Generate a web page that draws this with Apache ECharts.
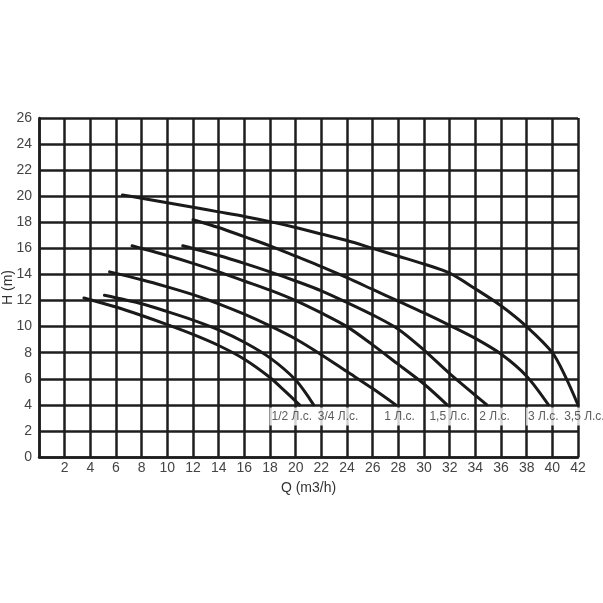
<!DOCTYPE html>
<html><head><meta charset="utf-8">
<script src="https://cdn.jsdelivr.net/npm/echarts@6/dist/echarts.min.js"></script>
<style>html,body{margin:0;padding:0;background:#fff}#c{width:603px;height:603px}</style>
</head><body><div id="c"></div>
<script>
// Curve names
const curveNames = ['1/2 Л.с.', '3/4 Л.с.', '1 Л.с.', '1,5 Л.с.', '2 Л.с.', '3 Л.с.', '3,5 Л.с.'];
// Q (m3/h) values per curve, with matching H (m) values
const q_half   = [3.5, 6, 8, 10, 12, 14, 16, 18, 19, 20.3];
const h_half   = [12.2, 11.5, 10.85, 10.15, 9.4, 8.55, 7.5, 6.1, 5.2, 4.0];
const q_3q     = [5.1, 8, 10, 12, 14, 16, 18, 20, 21.4];
const h_3q     = [12.4, 11.75, 11.15, 10.5, 9.75, 8.8, 7.6, 5.9, 4.0];
const q_1      = [5.5, 8, 10, 12, 14, 16, 18, 20, 22, 24, 26, 27.8];
const h_1      = [14.2, 13.6, 13.05, 12.45, 11.75, 10.95, 10.05, 9.05, 7.85, 6.55, 5.25, 4.0];
const q_15     = [7.25, 10, 12, 14, 16, 18, 20, 22, 24, 26, 28, 30, 31.8];
const h_15     = [16.2, 15.45, 14.85, 14.2, 13.5, 12.8, 12.0, 11.05, 10.0, 8.6, 7.1, 5.6, 4.0];
const q_2      = [11.2, 14, 16, 18, 20, 22, 24, 26, 28, 30, 32, 34.9];
const h_2      = [16.2, 15.45, 14.85, 14.2, 13.5, 12.75, 11.85, 10.9, 9.8, 8.2, 6.4, 4.0];
const q_3      = [12, 14, 16, 18, 20, 22, 24, 26, 28, 30, 32, 34, 36, 38, 39.7];
const h_3      = [18.2, 17.6, 16.9, 16.2, 15.4, 14.6, 13.75, 12.85, 11.95, 11.05, 10.1, 9.1, 7.9, 6.2, 4.0];
const q_35     = [6.5, 8, 10, 12, 14, 16, 18, 20, 22, 24, 26, 28, 30, 32, 34, 36, 38, 40, 41, 42];
const h_35     = [20.1, 19.85, 19.5, 19.15, 18.8, 18.45, 18.05, 17.6, 17.1, 16.6, 16.0, 15.4, 14.8, 14.1, 12.9, 11.6, 10.0, 8.0, 6.2, 4.0];
// label anchor points (data units)
const labelQ = [19.7, 23.3, 28.1, 32.0, 35.5, 39.3, 42.5];
const labelH = [3.1, 3.1, 3.1, 3.1, 3.1, 3.1, 3.1];
// axis ticks
const xTicks = [0,2,4,6,8,10,12,14,16,18,20,22,24,26,28,30,32,34,36,38,40,42];
const yTicks = [0,2,4,6,8,10,12,14,16,18,20,22,24,26];

const curvesQ = [q_half, q_3q, q_1, q_15, q_2, q_3, q_35];
const curvesH = [h_half, h_3q, h_1, h_15, h_2, h_3, h_35];
const FONT = 'Liberation Sans, Arial, sans-serif';

const series = curvesQ.map((qs, i) => ({
  type: 'line', name: curveNames[i], showSymbol: false, symbol: 'none', smooth: 0.3,
  lineStyle: { color: '#1a1a1a', width: 3, cap: 'round' },
  data: qs.map((q, j) => [q, curvesH[i][j]]), z: 5, silent: true
}));
series.push({
  type: 'scatter', symbolSize: 0, silent: true, clip: false, z: 6,
  data: labelQ.map((q, i) => ({ value: [q, labelH[i]], name: curveNames[i] })),
  label: { show: true, position: 'inside', formatter: p => p.name, color: '#333', fontSize: 12, fontFamily: FONT,
    backgroundColor: '#fff', padding: [3, 2, 3, 2] }
});

const chart = echarts.init(document.getElementById('c'), null, { renderer: 'canvas' });
chart.setOption({
  animation: false,
  backgroundColor: '#fff',
  grid: { left: 39, right: 25, top: 118, bottom: 146, containLabel: false, outerBoundsMode: 'none' },
  xAxis: {
    type: 'value', min: xTicks[0], max: xTicks[xTicks.length - 1], interval: 2,
    name: 'Q (m3/h)', nameLocation: 'middle', nameGap: 24, nameMoveOverlap: false,
    nameTextStyle: { color: '#333', fontSize: 14, fontFamily: FONT },
    axisLine: { show: true, lineStyle: { color: '#1e1e1e', width: 2.5 } },
    axisTick: { show: false },
    axisLabel: { color: '#444', fontSize: 14, fontFamily: FONT, margin: 4,
      formatter: v => (v === 0 ? '' : String(v)) },
    splitLine: { show: true, lineStyle: { color: '#1e1e1e', width: 2.5 } }
  },
  yAxis: {
    type: 'value', min: yTicks[0], max: yTicks[yTicks.length - 1], interval: 2,
    name: 'H (m)', nameLocation: 'middle', nameGap: 24, nameRotate: 90, nameMoveOverlap: false,
    nameTextStyle: { color: '#333', fontSize: 14, fontFamily: FONT },
    axisLine: { show: true, lineStyle: { color: '#1e1e1e', width: 2.5 } },
    axisTick: { show: false },
    axisLabel: { color: '#444', fontSize: 14, fontFamily: FONT, margin: 7 },
    splitLine: { show: true, lineStyle: { color: '#1e1e1e', width: 2.5 } }
  },
  series: series
});
</script>
</body></html>
